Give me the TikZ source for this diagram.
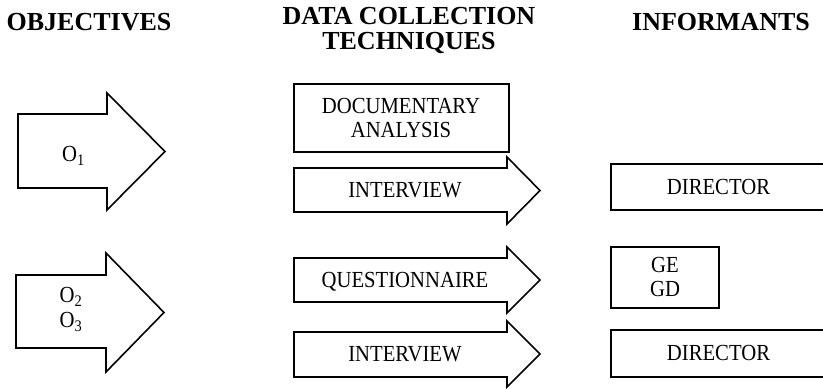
\documentclass[tikz,border=0pt]{standalone}
\usepackage{fontspec}
\setmainfont{Liberation Serif}
\newfontfamily\bodyfont[FakeStretch=0.9]{Liberation Serif}
\begin{document}
\begin{tikzpicture}[x=1pt,y=-1pt,
  shp/.style={draw=black,line width=1.6pt,line join=miter},
  hdr/.style={font=\fontsize{26}{27}\selectfont\bfseries,inner sep=0pt,align=center},
  lbl/.style={font=\bodyfont\fontsize{23}{24.5}\selectfont,inner sep=0pt,align=center}]
\useasboundingbox (0,0) rectangle (823,390);
\newcommand{\blockarrow}[7]{%
  \draw[shp] (#1,#2) -- (#4,#2) -- (#4,#5) -- (#7,{(#5+#6)/2}) -- (#4,#6) -- (#4,#3) -- (#1,#3) -- cycle;}
% headers
\node[hdr,anchor=base] (hobj) at (89,31) {OBJECTIVES};
\node[hdr,anchor=base] (hdc1) at (409,25) {DATA COLLECTION};
\node[hdr,anchor=base] (hdc2) at (409,50) {TECHNIQUES};
\node[hdr,anchor=base] (hinf) at (721,31) {INFORMANTS};
% objective arrows
\blockarrow{18}{114}{188}{107}{93}{210}{165}
\node[lbl,anchor=base] (o1) at (73.5,161.7) {O\textsubscript{1}};
\blockarrow{16}{275}{348}{106}{253}{372}{164}
\node[lbl] (o23) at (71,309.5) {O\textsubscript{2}\\O\textsubscript{3}};
% techniques
\draw[shp] (294,84) rectangle (509,152);
\node[lbl] (doc) at (401,118) {DOCUMENTARY\\ANALYSIS};
\blockarrow{294}{168}{212}{507}{157}{224}{540}
\node[lbl,anchor=base] (int1) at (405,197.6) {INTERVIEW};
\blockarrow{294}{258}{302}{507}{247}{313}{540}
\node[lbl,anchor=base] (quest) at (405,287.6) {QUESTIONNAIRE};
\blockarrow{294}{332}{377}{507}{321}{387}{540}
\node[lbl,anchor=base] (int2) at (405,362) {INTERVIEW};
% informants
\draw[shp] (611,164) rectangle (826,210);
\node[lbl,anchor=base] (dir1) at (718.5,194.6) {DIRECTOR};
\draw[shp] (611,247) rectangle (719,308);
\node[lbl] (gegd) at (665,277) {GE\\GD};
\draw[shp] (611,330) rectangle (826,377);
\node[lbl,anchor=base] (dir2) at (718.5,361) {DIRECTOR};
\end{tikzpicture}
\end{document}
